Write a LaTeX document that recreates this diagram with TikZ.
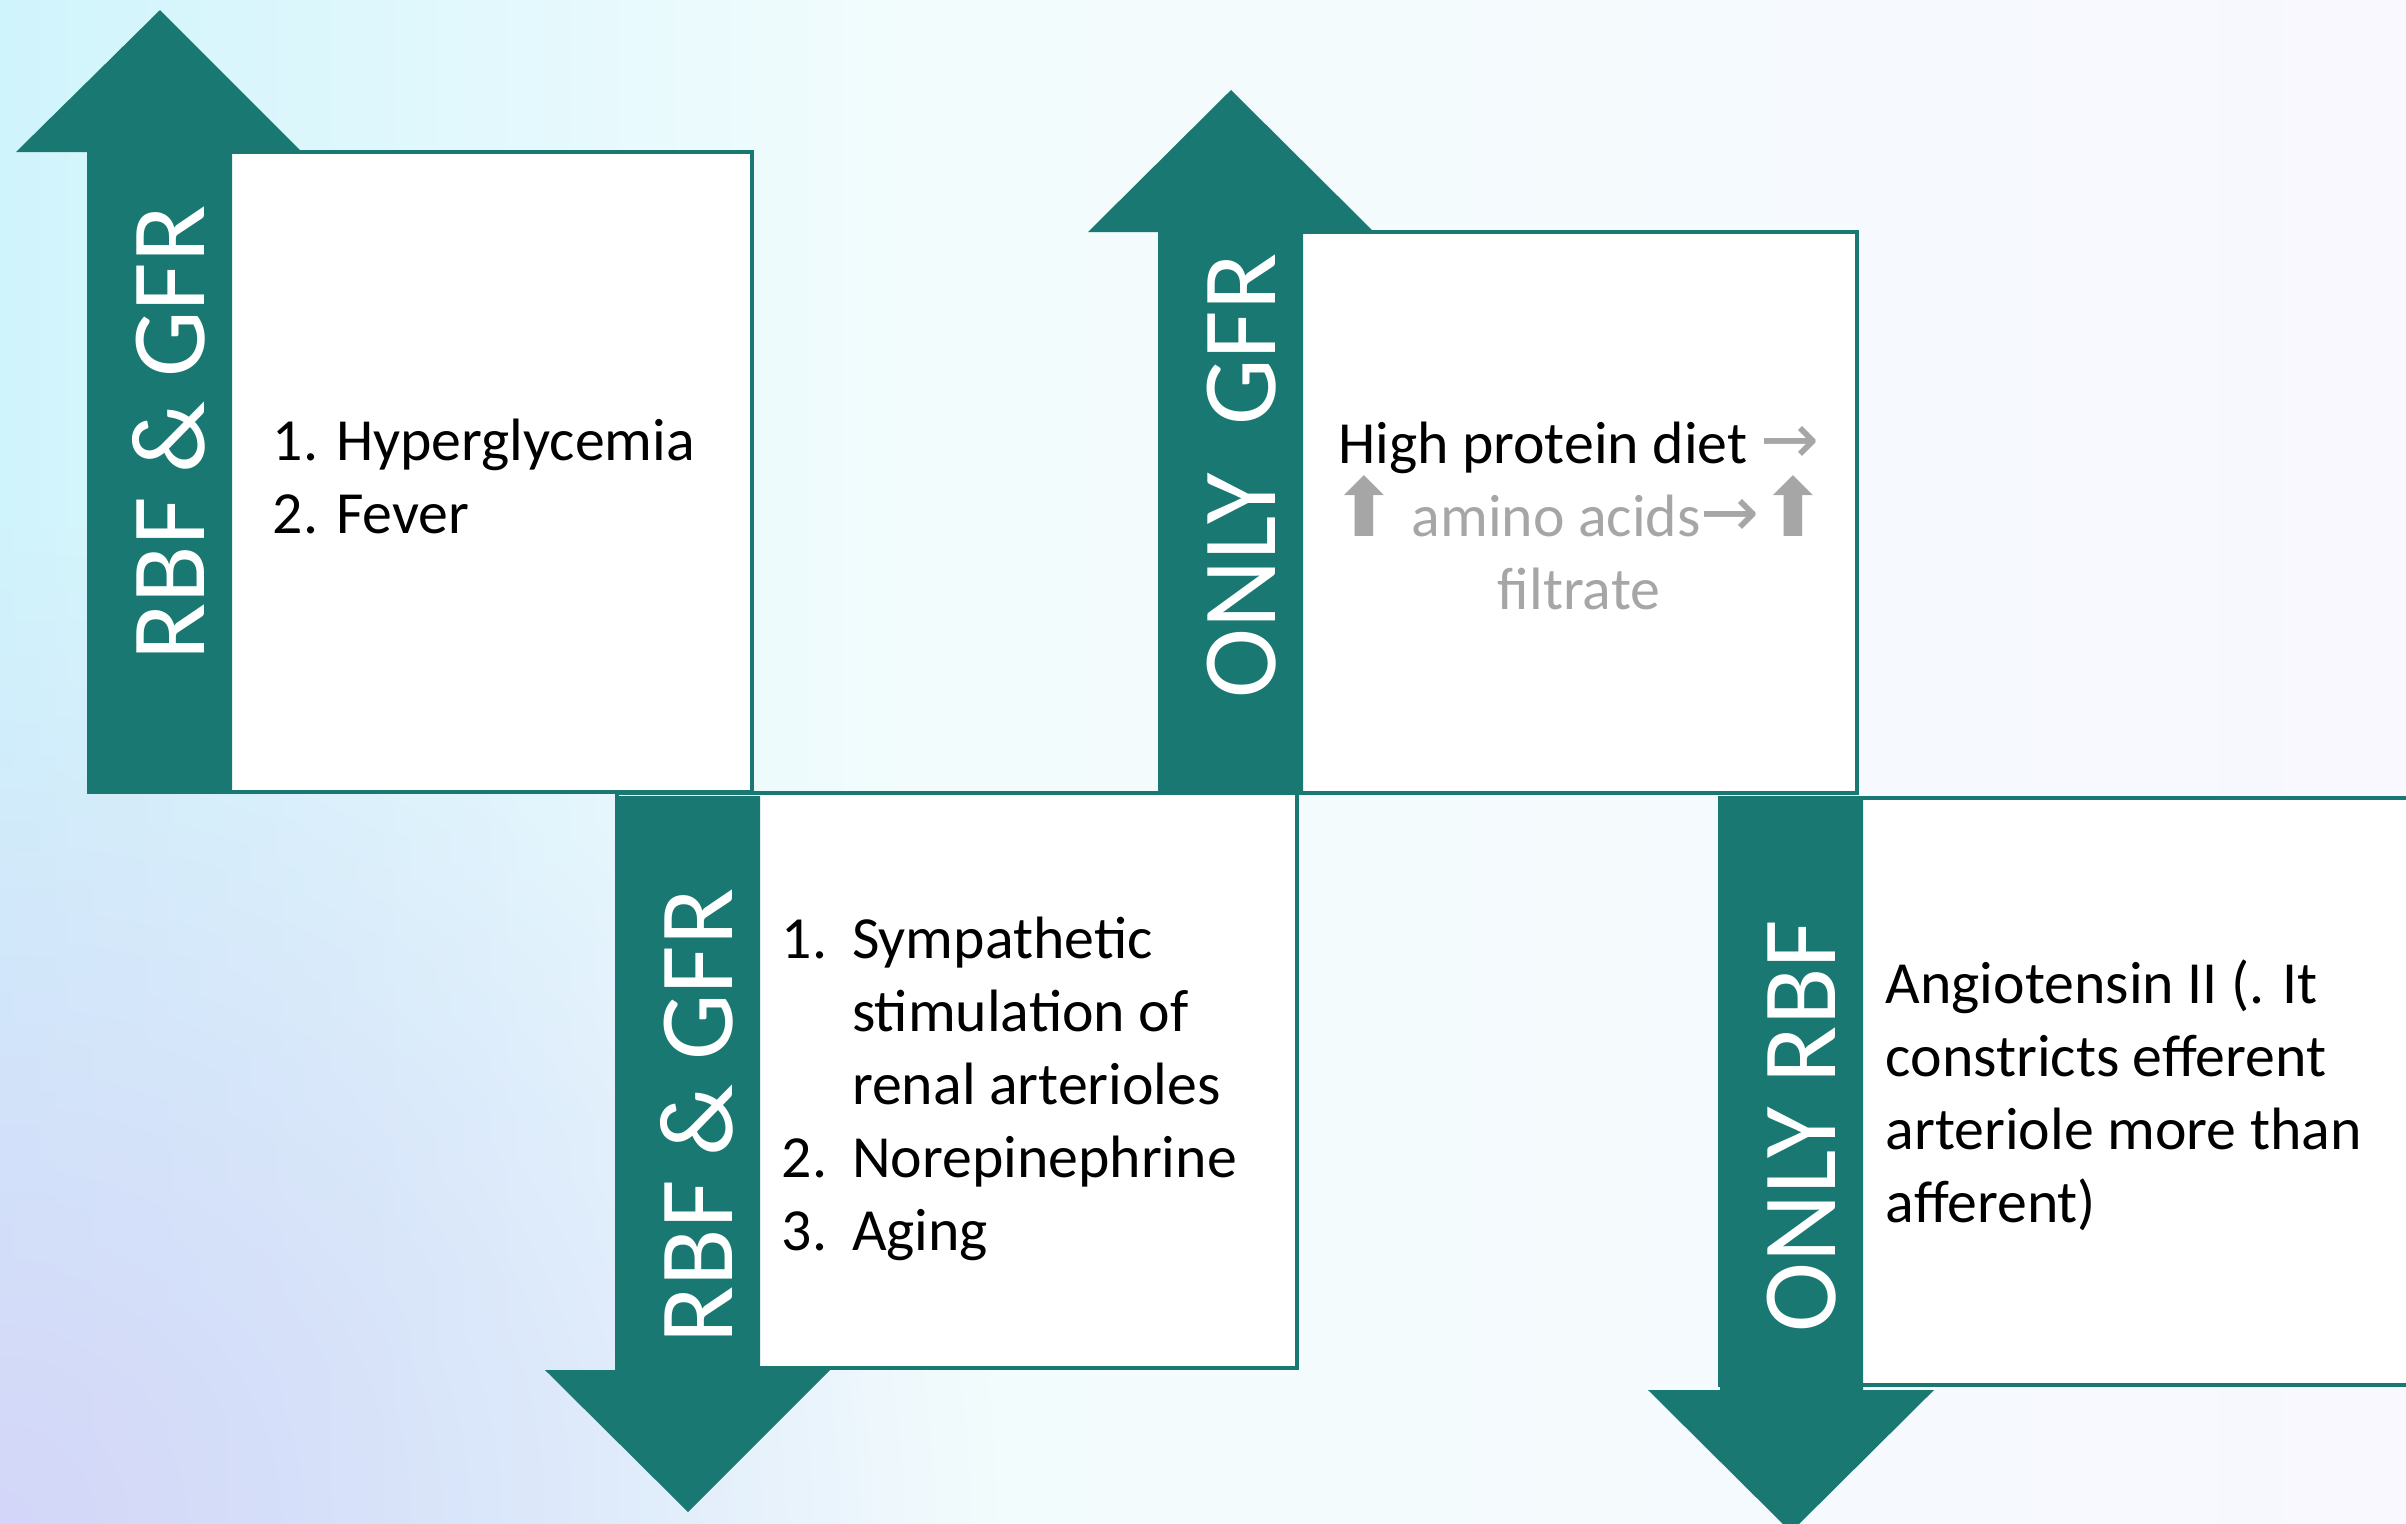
\documentclass[tikz,border=0pt]{standalone}
\usepackage{fontspec}
\setmainfont{Carlito}
\newfontfamily\symfont{DejaVu Sans}
\usetikzlibrary{fadings}

\definecolor{arrowteal}{RGB}{26,120,115}
\definecolor{bgcyan}{RGB}{208,244,252}
\definecolor{bgpale}{RGB}{242,252,253}
\definecolor{bglilac}{RGB}{212,214,248}
\definecolor{bgwhite}{RGB}{248,248,254}
\definecolor{softgrey}{RGB}{166,166,166}

\tikzfading[name=cornerfade, inner color=transparent!0, outer color=transparent!100]

\tikzset{
  bigarrow/.style={fill=arrowteal},
  infobox/.style={draw=arrowteal, line width=1.2pt, fill=white},
  arrowlabel/.style={rotate=90, anchor=base, text=white, inner sep=0pt,
    font=\fontsize{30}{36}\selectfont},
  boxtext/.style={inner sep=0pt, font=\fontsize{17}{20.8}\selectfont},
}
\newcommand{\fatup}{\raisebox{0pt}[0pt][0pt]{\symfont\fontsize{23}{23}\selectfont ⬆}}

\begin{document}
\begin{tikzpicture}[x=0.01cm, y=-0.01cm]
    \useasboundingbox (0,0) rectangle (2406,1523);
    \clip (0,0) rectangle (2406,1523);

    % background
    \shade[left color=bgcyan, right color=bgpale] (0,0) rectangle (900,1523);
    \shade[left color=bgpale, right color=bgwhite] (900,0) rectangle (2406,1523);
    \fill[bglilac, path fading=cornerfade] (0,1523) circle (1000);

    % boxes
    \draw[infobox] (89,152) rectangle (752,792);
    \draw[infobox] (617,793) rectangle (1297,1368);
    \draw[infobox] (1160,232) rectangle (1857,793);
    \draw[infobox] (1720,798) rectangle (2440,1385);

    % up arrows
    \fill[bigarrow] (89,793) -- (89,152) -- (16,152) -- (160,10)
        -- (302,152) -- (232,152) -- (232,793) -- cycle;
    \fill[bigarrow] (1160,793) -- (1160,232) -- (1088,232) -- (1231,90)
        -- (1374,232) -- (1303,232) -- (1303,793) -- cycle;

    % down arrows
    \fill[bigarrow] (617,796) -- (617,1370) -- (545,1370) -- (688,1512)
        -- (830,1370) -- (760,1370) -- (760,796) -- cycle;
    \fill[bigarrow] (1720,800) -- (1720,1390) -- (1648,1390) -- (1791,1532)
        -- (1934,1390) -- (1863,1390) -- (1863,800) -- cycle;

    % arrow labels
    \node[arrowlabel] (bothup) at (204,433) {RBF \& GFR};
    \node[arrowlabel] (gfrup) at (1275,476) {ONLY\ \ GFR};
    \node[arrowlabel] (bothdown) at (732,1116) {RBF \& GFR};
    \node[arrowlabel] (rbfdown) at (1835,1126) {ONLY RBF};

    % box texts
    \node[boxtext, anchor=base west] (bothuptext) at (272,460)
        {\begin{tabular}[t]{@{}l@{}}
            1. Hyperglycemia\\
            2. Fever
        \end{tabular}};
    \node[boxtext, anchor=base] (gfruptext) at (1579,463)
        {\begin{tabular}[t]{@{}c@{}}
            High protein diet {\color{softgrey}\symfont\fontsize{20}{20}\selectfont →}\\
            \color{softgrey}\fatup{} amino acids{\symfont\fontsize{20}{20}\selectfont →}\fatup\\
            \color{softgrey}filtrate
        \end{tabular}};
    \node[boxtext, anchor=base west] (bothdowntext) at (781,958)
        {\begin{tabular}[t]{@{}l@{\hspace{0.25cm}}l@{}}
            1. & Sympathetic\\
               & stimulation of\\
               & renal arterioles\\
            2. & Norepinephrine\\
            3. & Aging
        \end{tabular}};
    \node[boxtext, anchor=base west] (rbfdowntext) at (1885,1003)
        {\begin{tabular}[t]{@{}l@{}}
            Angiotensin II (. It\\
            constricts efferent\\
            arteriole more than\\
            afferent)
        \end{tabular}};
\end{tikzpicture}
\end{document}
